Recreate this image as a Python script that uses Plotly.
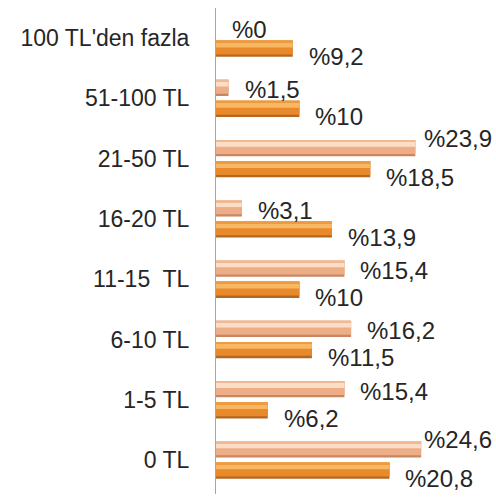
import plotly.graph_objects as go

categories = ["0 TL", "1-5 TL", "6-10 TL", "11-15  TL", "16-20 TL", "21-50 TL", "51-100 TL", "100 TL'den fazla"]
series_light = [24.6, 15.4, 16.2, 15.4, 3.1, 23.9, 1.5, 0]
series_orange = [20.8, 6.2, 11.5, 10, 13.9, 18.5, 10, 9.2]

W, H = 496, 499
ML, MR, MT, MB = 216, 0, 8, 5
XMAX = (W - ML - MR) / 8.34
FONT = "Liberation Sans"
LABEL_SIZE = 24
TEXT_COLOR = "#262626"
THICK = 0.27

# bevel layers: (fraction of thickness from top, colour)
LIGHT_LAYERS = [(1.0, "#C98662"), (0.86, "#EDAD87"), (0.42, "#FCDDC5"), (0.12, "#F0B994")]
ORANGE_LAYERS = [(1.0, "#B5661F"), (0.86, "#E8892C"), (0.42, "#F8B763"), (0.12, "#EE9A3E")]

fig = go.Figure()


def add_bevel_bar(values, center, layers):
    top = center + THICK / 2
    for frac, color in layers:
        fig.add_trace(go.Bar(
            y=categories, x=values, orientation="h",
            offset=top - frac * THICK, width=frac * THICK,
            marker=dict(color=color, line=dict(width=0)),
            hoverinfo="skip", showlegend=False,
        ))


add_bevel_bar(series_orange, -0.175, ORANGE_LAYERS)
add_bevel_bar(series_light, 0.175, LIGHT_LAYERS)


def fmt(v):
    return "%" + f"{v:g}".replace(".", ",")


def text_width(s, size):
    w = {"%": 0.889, ",": 0.278}
    return sum(w.get(ch, 0.556) for ch in s) * size


px_per_unit = (W - ML - MR) / XMAX
annotations = []
for series, base_shift in ((series_light, 8.5), (series_orange, -18.5)):
    for cat, v in zip(categories, series):
        t = fmt(v)
        end = ML + v * px_per_unit
        w = text_width(t, LABEL_SIZE)
        xs = 14
        ys = base_shift
        if end + xs + w > 490:
            xs = 490 - w - end
            ys += 12
        annotations.append(dict(
            x=v, y=cat, xref="x", yref="y", text=t, showarrow=False,
            xanchor="left", yanchor="middle", xshift=xs, yshift=ys,
            font=dict(family=FONT, size=LABEL_SIZE, color=TEXT_COLOR),
        ))

fig.update_layout(
    width=W, height=H,
    margin=dict(l=ML, r=MR, t=MT, b=MB),
    barmode="overlay",
    showlegend=False,
    plot_bgcolor="white", paper_bgcolor="white",
    annotations=annotations,
    xaxis=dict(range=[0, XMAX], showgrid=False, zeroline=False, showline=False,
               showticklabels=False, ticks=""),
    yaxis=dict(showgrid=False, zeroline=False, showline=True, linecolor="#A6A6A6",
               linewidth=1, ticks="", ticklabelstandoff=21,
               tickfont=dict(family=FONT, size=23, color=TEXT_COLOR)),
)

fig.write_html("out.html", config={"displayModeBar": False},
               post_script="document.body.style.margin='0';")
